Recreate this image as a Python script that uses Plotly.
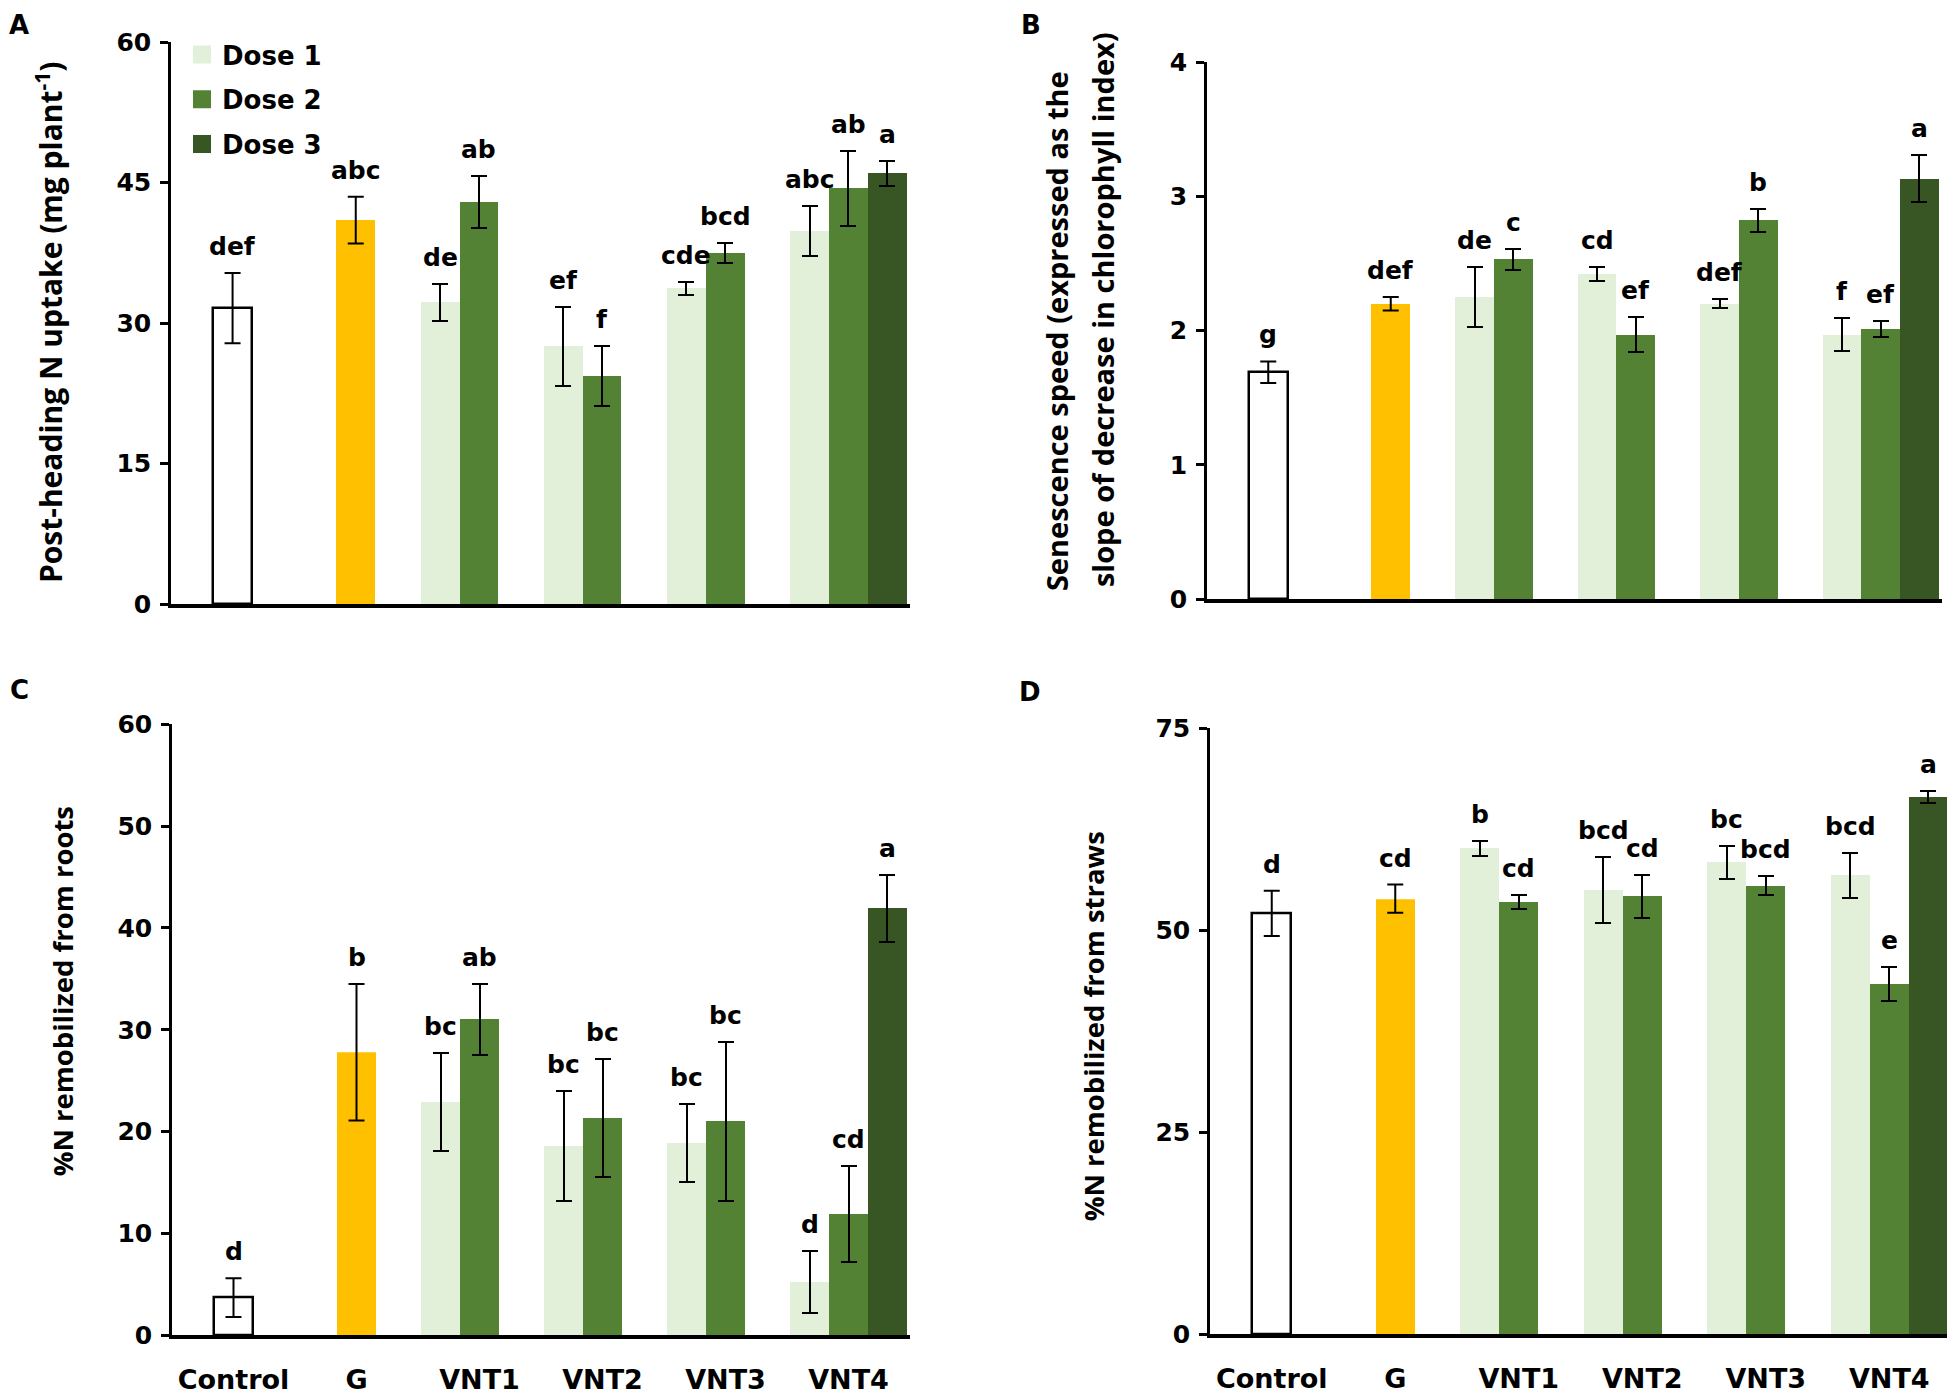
import plotly.graph_objects as go

# ---------------- data ----------------
categories = ["Control", "G", "VNT1", "VNT2", "VNT3", "VNT4"]
single_groups = ["Control", "G"]
dose_groups = ["VNT1", "VNT2", "VNT3", "VNT4"]
dose3_groups = ["VNT4"]
dose_names = ["Dose 1", "Dose 2", "Dose 3"]

# Panel A: Post-heading N uptake
a_single = [31.6, 41.0]
a_single_err = [3.75, 2.5]
a_single_lbl = ["def", "abc"]
a_d1 = [32.2, 27.5, 33.7, 39.8]
a_d1_err = [2.0, 4.25, 0.7, 2.65]
a_d1_lbl = ["de", "ef", "cde", "abc"]
a_d2 = [42.9, 24.4, 37.5, 44.4]
a_d2_err = [2.75, 3.2, 1.1, 4.0]
a_d2_lbl = ["ab", "f", "bcd", "ab"]
a_d3 = [46.0]
a_d3_err = [1.35]
a_d3_lbl = ["a"]

# Panel B: Senescence speed
b_single = [1.69, 2.20]
b_single_err = [0.08, 0.05]
b_single_lbl = ["g", "def"]
b_d1 = [2.25, 2.42, 2.20, 1.97]
b_d1_err = [0.225, 0.05, 0.035, 0.125]
b_d1_lbl = ["de", "cd", "def", "f"]
b_d2 = [2.53, 1.97, 2.82, 2.01]
b_d2_err = [0.08, 0.13, 0.087, 0.06]
b_d2_lbl = ["c", "ef", "b", "ef"]
b_d3 = [3.13]
b_d3_err = [0.175]
b_d3_lbl = ["a"]

# Panel C: %N remobilized from roots
c_single = [3.7, 27.8]
c_single_err = [1.9, 6.7]
c_single_lbl = ["d", "b"]
c_d1 = [22.9, 18.6, 18.9, 5.2]
c_d1_err = [4.8, 5.4, 3.85, 3.05]
c_d1_lbl = ["bc", "bc", "bc", "d"]
c_d2 = [31.0, 21.3, 21.0, 11.9]
c_d2_err = [3.5, 5.8, 7.8, 4.7]
c_d2_lbl = ["ab", "bc", "bc", "cd"]
c_d3 = [41.9]
c_d3_err = [3.3]
c_d3_lbl = ["a"]

# Panel D: %N remobilized from straws
d_single = [52.1, 53.9]
d_single_err = [2.8, 1.75]
d_single_lbl = ["d", "cd"]
d_d1 = [60.1, 55.0, 58.4, 56.8]
d_d1_err = [0.9, 4.05, 2.0, 2.8]
d_d1_lbl = ["b", "bcd", "bc", "bcd"]
d_d2 = [53.5, 54.2, 55.5, 43.3]
d_d2_err = [0.9, 2.65, 1.2, 2.1]
d_d2_lbl = ["cd", "cd", "bcd", "e"]
d_d3 = [66.5]
d_d3_err = [0.7]
d_d3_lbl = ["a"]

a_ticks = [0, 15, 30, 45, 60]
b_ticks = [0, 1, 2, 3, 4]
c_ticks = [0, 10, 20, 30, 40, 50, 60]
d_ticks = [0, 25, 50, 75]

a_title = "Post-heading N uptake (mg plant<sup>-1</sup>)"
b_title_1 = "Senescence speed (expressed as the"
b_title_2 = "slope of decrease in chlorophyll index)"
c_title = "%N remobilized from roots"
d_title = "%N remobilized from straws"

# ---------------- style ----------------
W, H = 1955, 1394
# page placement compensation (measured from an earlier render)
OX, OY, SY = 8.0, 21.4, 0.979
BAR_W = 0.315
COL_SINGLE = ["white", "#FFC000"]
LINE_SINGLE = ["black", "#FFC000"]
LINEW_SINGLE = [2.5, 0]
DOSE_COLORS = ["#E2F0D9", "#548235", "#375623"]
TXT = "DejaVu Sans"
TTL = "Open Sans"


def px_x(v):
    return (v - OX) / W


def px_y(v):
    return 1 - (v / SY - OY) / H


panels = [
    dict(box=(171, 910, 41, 603), rng=[0, 60], ticks=a_ticks, xlabels=False,
         single=(a_single, a_single_err, a_single_lbl),
         doses=[(dose_groups, a_d1, a_d1_err, a_d1_lbl),
                (dose_groups, a_d2, a_d2_err, a_d2_lbl),
                (dose3_groups, a_d3, a_d3_err, a_d3_lbl)], legend=True),
    dict(box=(1207, 1942, 61, 598), rng=[0, 4], ticks=b_ticks, xlabels=False,
         single=(b_single, b_single_err, b_single_lbl),
         doses=[(dose_groups, b_d1, b_d1_err, b_d1_lbl),
                (dose_groups, b_d2, b_d2_err, b_d2_lbl),
                (dose3_groups, b_d3, b_d3_err, b_d3_lbl)], legend=False),
    dict(box=(172, 910, 723, 1334), rng=[0, 60], ticks=c_ticks, xlabels=True,
         single=(c_single, c_single_err, c_single_lbl),
         doses=[(dose_groups, c_d1, c_d1_err, c_d1_lbl),
                (dose_groups, c_d2, c_d2_err, c_d2_lbl),
                (dose3_groups, c_d3, c_d3_err, c_d3_lbl)], legend=False),
    dict(box=(1210, 1951, 727, 1333), rng=[0, 75], ticks=d_ticks, xlabels=True,
         single=(d_single, d_single_err, d_single_lbl),
         doses=[(dose_groups, d_d1, d_d1_err, d_d1_lbl),
                (dose_groups, d_d2, d_d2_err, d_d2_lbl),
                (dose3_groups, d_d3, d_d3_err, d_d3_lbl)], legend=False),
]

dose_offsets = [-1.5 * BAR_W, -0.5 * BAR_W, 0.5 * BAR_W]

fig = go.Figure()
annotations = []
layout_axes = {}


def err(arr):
    return dict(type="data", array=arr, visible=True, color="black",
                thickness=2, width=8)


LBL_FONT = dict(family=TXT, size=25, color="black", weight="bold")

for i, p in enumerate(panels, start=1):
    xa = "x" if i == 1 else f"x{i}"
    ya = "y" if i == 1 else f"y{i}"
    vals, errs, lbls = p["single"]
    fig.add_trace(go.Bar(
        x=single_groups, y=vals, width=BAR_W, offset=-0.5 * BAR_W,
        marker=dict(color=COL_SINGLE, line=dict(color=LINE_SINGLE, width=LINEW_SINGLE)),
        error_y=err(errs), showlegend=False, xaxis=xa, yaxis=ya))
    for g, v, e, l in zip(single_groups, vals, errs, lbls):
        annotations.append(dict(x=categories.index(g), y=v + e, xref=xa, yref=ya,
                                text=l, showarrow=False, yanchor="bottom", yshift=10,
                                font=LBL_FONT))
    for k, (groups, vals, errs, lbls) in enumerate(p["doses"]):
        fig.add_trace(go.Bar(
            x=groups, y=vals, width=BAR_W, offset=dose_offsets[k],
            name=dose_names[k], legendgroup=dose_names[k],
            marker=dict(color=DOSE_COLORS[k], line=dict(width=0)),
            error_y=err(errs), showlegend=False, xaxis=xa, yaxis=ya))
        for g, v, e, l in zip(groups, vals, errs, lbls):
            annotations.append(dict(x=categories.index(g) + dose_offsets[k] + BAR_W / 2,
                                    y=v + e, xref=xa, yref=ya,
                                    text=l, showarrow=False, yanchor="bottom", yshift=10,
                                    font=LBL_FONT))
    x0, x1, y0, y1 = p["box"]
    xkey = "xaxis" if i == 1 else f"xaxis{i}"
    ykey = "yaxis" if i == 1 else f"yaxis{i}"
    layout_axes[xkey] = dict(
        domain=[px_x(x0), min(px_x(x1), 1.0)], anchor=ya, type="category",
        categoryorder="array", categoryarray=categories, range=[-0.5, 5.5],
        showline=True, linecolor="black", linewidth=3.5, ticks="",
        showticklabels=p["xlabels"], ticklabelstandoff=18,
        tickfont=dict(family=TXT, size=27, color="black", weight="bold"),
        showgrid=False, zeroline=False, fixedrange=True)
    layout_axes[ykey] = dict(
        domain=[px_y(y1), px_y(y0)], anchor=xa, range=p["rng"],
        tickmode="array", tickvals=p["ticks"],
        showline=True, linecolor="black", linewidth=2.5,
        ticks="outside", ticklen=8, tickwidth=2.5, tickcolor="black",
        ticklabelstandoff=4,
        tickfont=dict(family=TXT, size=25, color="black", weight="bold"),
        showgrid=False, zeroline=False, fixedrange=True)

# legend entries (square swatches, larger than the default bar swatch)
for k, name in enumerate(dose_names):
    fig.add_trace(go.Scatter(
        x=[None], y=[None], mode="markers", name=name, legendgroup=name,
        marker=dict(symbol="square", size=16, color=DOSE_COLORS[k],
                    line=dict(color=DOSE_COLORS[k], width=2)),
        showlegend=True, hoverinfo="skip", xaxis="x", yaxis="y"))


def paper_text(text, x, y, size, angle=0, family=TTL):
    return dict(text=text, x=px_x(x), y=px_y(y), xref="paper", yref="paper",
                showarrow=False, textangle=angle, xanchor="center", yanchor="middle",
                font=dict(family=family, size=size, color="black", weight="bold"))


annotations += [
    paper_text(a_title, 50, 321, 30, -90),
    paper_text(b_title_1, 1056, 330, 29, -90),
    paper_text(b_title_2, 1102, 309, 29, -90),
    paper_text(c_title, 62, 990, 27.5, -90),
    paper_text(d_title, 1093, 1025, 27.5, -90),
    paper_text("A", 19, 24, 26, family=TXT),
    paper_text("B", 1031, 24, 26, family=TXT),
    paper_text("C", 19, 689, 26, family=TXT),
    paper_text("D", 1030, 691, 26, family=TXT),
]

fig.update_layout(
    width=W, height=H, margin=dict(l=0, r=0, t=0, b=0),
    paper_bgcolor="white", plot_bgcolor="white",
    barmode="overlay", bargap=0,
    annotations=annotations,
    legend=dict(x=px_x(182), y=px_y(30), xanchor="left", yanchor="top",
                bgcolor="rgba(0,0,0,0)", tracegroupgap=8, traceorder="grouped",
                itemsizing="trace",
                font=dict(family=TXT, size=26, color="black", weight="bold")),
    **layout_axes,
)

fig.write_html("out.html")
